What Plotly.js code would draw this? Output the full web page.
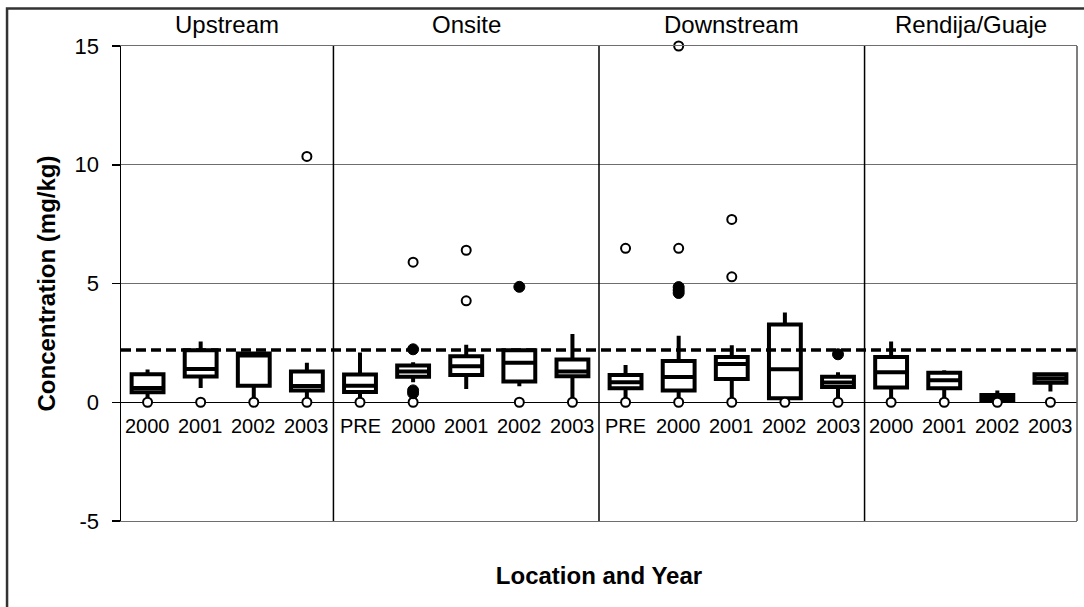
<!DOCTYPE html>
<html><head><meta charset="utf-8">
<script src="https://cdn.plot.ly/plotly-3.0.1.min.js"></script>
<style>html,body{margin:0;padding:0;background:#fff;}#chart{width:1084px;height:607px;}</style>
</head><body><div id="chart"></div>
<script>
// ---- data ----
const categories = ['2000','2001','2002','2003','PRE','2000','2001','2002','2003','PRE','2000','2001','2002','2003','2000','2001','2002','2003'];
const groupNames = ['Upstream','Onsite','Downstream','Rendija/Guaje'];
const groupSizes = [4,5,5,4];
const lowerFence = [0.0,0.6,0.0,0.0, 0.1,0.84,0.56,0.67,0.0, 0.0,0.0,0.0,0.1,0.0, 0.0,0.0,0.0,0.45];
const q1Values   = [0.42,1.08,0.7,0.5, 0.43,1.07,1.15,0.87,1.1, 0.59,0.5,0.98,0.17,0.64, 0.62,0.59,0.05,0.82];
const medians    = [0.6,1.4,1.97,0.68, 0.7,1.3,1.52,1.66,1.3, 0.84,1.06,1.61,1.39,0.83, 1.26,0.93,0.2,1.0];
const q3Values   = [1.18,2.19,2.05,1.29, 1.17,1.55,1.94,2.19,1.8, 1.15,1.74,1.91,3.27,1.07, 1.91,1.24,0.31,1.18];
const upperFence = [1.38,2.56,2.12,1.66, 2.09,1.68,2.42,2.25,2.87, 1.57,2.8,2.4,3.78,1.26, 2.56,1.35,0.5,1.18];
const zeroMarkCats = [0,1,2,3,4,5,7,8,9,10,11,12,13,14,15,16,17];
const zeroMarkVals = [0,0,0,0,0,0,0,0,0,0,0,0,0,0,0,0,0];
const openOutlierCats = [3,5,6,6,9,10,10,11,11];
const openOutlierVals = [10.35,5.9,6.4,4.27,6.48,15.0,6.48,7.7,5.28];
const filledOutlierCats = [5,5,5,7,10,10,10,13];
const filledOutlierVals = [2.23,0.5,0.38,4.86,4.85,4.72,4.6,2.02];
const referenceLevel = 2.2;
const yTickVals = [-5,0,5,10,15];

// ---- chart ----
const FONT = 'Liberation Sans, Arial, Helvetica, sans-serif';
const idx = categories.map((c,i)=>i);

const traces = [
  {type:'box', x: idx, q1: q1Values, median: medians, q3: q3Values,
   lowerfence: lowerFence, upperfence: upperFence,
   width: 0.6, whiskerwidth: 0, boxpoints: false,
   fillcolor: '#ffffff', line: {color: '#000000', width: 4},
   hoverinfo: 'skip', showlegend: false},
  {type:'scatter', mode:'markers', x: zeroMarkCats, y: zeroMarkVals, cliponaxis:false,
   marker:{symbol:'circle', size:9, color:'#ffffff', line:{color:'#000000', width:2}},
   hoverinfo:'skip', showlegend:false},
  {type:'scatter', mode:'markers', x: openOutlierCats, y: openOutlierVals, cliponaxis:false,
   marker:{symbol:'circle', size:9, color:'#ffffff', line:{color:'#000000', width:2}},
   hoverinfo:'skip', showlegend:false},
  {type:'scatter', mode:'markers', x: filledOutlierCats, y: filledOutlierVals, cliponaxis:false,
   marker:{symbol:'circle', size:11, color:'#000000', line:{color:'#000000', width:1}},
   hoverinfo:'skip', showlegend:false}
];

const annotations = [];
categories.forEach((c,i)=>{
  annotations.push({xref:'x', yref:'y', x:i, y:-1.0, text:c, showarrow:false,
    xanchor:'center', yanchor:'middle', font:{family:FONT, size:20, color:'#000'}});
});
const shapes = [];
let start = 0;
groupNames.forEach((g,k)=>{
  const n = groupSizes[k];
  const center = start + (n-1)/2;
  annotations.push({xref:'x', yref:'paper', x:center, y:1.046, text:g, showarrow:false,
    xanchor:'center', yanchor:'middle', font:{family:FONT, size:24, color:'#000'}});
  if (k < groupNames.length-1) {
    shapes.push({type:'line', xref:'x', yref:'paper', x0:start+n-0.5, x1:start+n-0.5, y0:0, y1:1,
      line:{color:'#000', width:1.5}, layer:'above'});
  }
  start += n;
});
// reference level (dashed)
shapes.push({type:'line', xref:'paper', yref:'y', x0:0, x1:1, y0:referenceLevel, y1:referenceLevel,
  line:{color:'#000', width:3.5, dash:'10px,5px'}, layer:'above'});
// right border of plot area
shapes.push({type:'line', xref:'paper', yref:'paper', x0:1, x1:1, y0:0, y1:1,
  line:{color:'#555', width:1.5}, layer:'above'});
// outer chart frame (left and top edges visible)
shapes.push({type:'rect', xref:'paper', yref:'paper', x0:-0.1192, x1:1.05, y0:-0.3, y1:1.079,
  line:{color:'#333', width:2.5}, fillcolor:'rgba(255,255,255,0)', layer:'above'});

const layout = {
  width:1084, height:607,
  margin:{l:121, r:7, t:46, b:86, pad:0},
  paper_bgcolor:'#ffffff', plot_bgcolor:'#ffffff',
  font:{family:FONT, color:'#000'},
  showlegend:false,
  xaxis:{range:[-0.5,17.5], showticklabels:false, ticks:'', showgrid:false, zeroline:false,
    showline:true, mirror:true, linecolor:'#6e6e6e', linewidth:1, fixedrange:true,
    title:{text:'<b>Location and Year</b>', font:{family:FONT, size:24, color:'#000'}, standoff:46}},
  yaxis:{range:[-5,15], tickvals:yTickVals, ticktext:yTickVals.map(String), ticks:'outside', ticklen:8,
    tickwidth:1.5, tickcolor:'#000', showline:true, linecolor:'#000', linewidth:1.5,
    showgrid:true, gridcolor:'#6e6e6e', gridwidth:1, zeroline:true, zerolinecolor:'#000', zerolinewidth:1,
    tickfont:{family:FONT, size:22, color:'#000'}, ticklabelstandoff:8, fixedrange:true,
    title:{text:'<b>Concentration (mg/kg)</b>', font:{family:FONT, size:24, color:'#000'}, standoff:12}},
  shapes: shapes,
  annotations: annotations
};

Plotly.newPlot('chart', traces, layout, {displayModeBar:false, staticPlot:true});
</script>
</body></html>
